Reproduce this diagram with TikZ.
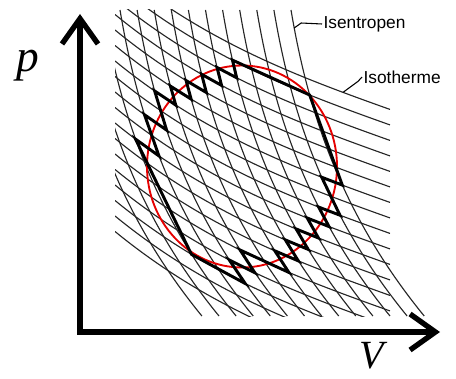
\documentclass[tikz,border=0pt]{standalone}
\usepackage{fontspec}
\setmainfont{Liberation Serif}
\newfontfamily\labelfont{Liberation Sans}
\usetikzlibrary{arrows.meta}

% one fixed-point step towards the crossing of an isentrope and an isotherm
\newcommand{\cpstep}{%
    \pgfmathsetmacro\cpx{\cpd+sdrop((\cpy-10)/100)}%
    \pgfmathsetmacro\cpy{\cpc+tdrop((\cpx-115)/100)}}
% crossing of isentrope #1 and isotherm #2, named (c#1-#2)
\newcommand{\cyclept}[2]{%
    \pgfmathsetmacro\cpc{-32+15.5*#2}%
    \pgfmathsetmacro\cpd{291-17.1*#1}%
    \let\cpy\cpc
    \cpstep\cpstep\cpstep\cpstep\cpstep\cpstep
    \coordinate (c#1-#2) at (\cpx,\cpy);}

\begin{document}
\begin{tikzpicture}[x=0.75pt, y=-0.75pt,
    declare function={tdrop(\s)=81.77*\s-16.34*\s*\s+1.93*\s*\s*\s;
                      sdrop(\t)=16.86*\t+4.95*\t*\t+1.23*\t*\t*\t;},
    gridline/.style={line width=0.85pt, black!85},
    cycleline/.style={line width=2.2pt, line join=miter},
    axis/.style={line width=4pt,
        {Straight Barb[length=19pt,width=27pt]}-{Straight Barb[length=19pt,width=27pt]}}]
    \useasboundingbox (0,0) rectangle (456,378);

    % Isothermen
    \begin{scope}
        \clip (115,10) rectangle (390,316);
        \foreach \k in {0,...,17} {
            \draw[gridline] plot[domain=115:390, samples=40] (\x, {-32+15.5*\k+tdrop((\x-115)/100)});
        }
    \end{scope}

    % Isentropen
    \begin{scope}
        \clip (115,10) rectangle (456,316);
        \foreach \i in {0,...,13} {
            \draw[gridline] plot[domain=10:316, samples=40] ({291-17.1*\i+sdrop((\x-10)/100)}, \x);
        }
    \end{scope}

    % Kreisprozess
    \draw[line width=1.4pt, red!90!black] (242,166.5) ellipse [x radius=95, y radius=101];

    \foreach \i/\k in {0/1,4/1,4/2,5/2,5/3,6/3,6/4,7/4,7/5,8/5,8/6,9/6,9/8,10/8,10/10,11/10,
                       11/15,9/15,9/14,8/14,8/13,6/13,6/12,5/12,5/11,4/11,4/10,3/10,3/9,2/9,
                       2/8,1/8,1/6,0/6} {
        \cyclept{\i}{\k}
    }
    \draw[cycleline] (c0-1) -- (c4-1) -- (c4-2) -- (c5-2) -- (c5-3) -- (c6-3) -- (c6-4)
        -- (c7-4) -- (c7-5) -- (c8-5) -- (c8-6) -- (c9-6) -- (c9-8) -- (c10-8) -- (c10-10)
        -- (c11-10) -- (c11-15) -- (c9-15) -- (c9-14) -- (c8-14) -- (c8-13) -- (c6-13)
        -- (c6-12) -- (c5-12) -- (c5-11) -- (c4-11) -- (c4-10) -- (c3-10) -- (c3-9)
        -- (c2-9) -- (c2-8) -- (c1-8) -- (c1-6) -- (c0-6) -- cycle;

    % Beschriftung
    \coordinate (sleader) at ({291+sdrop(0.18)}, 28);
    \coordinate (tleader) at (343, {-32+tdrop(2.28)});
    \node[anchor=west, inner sep=1pt, font=\labelfont\fontsize{13}{13}\selectfont] (isentropen) at (322,24) {Isentropen};
    \node[anchor=west, inner sep=1pt, font=\labelfont\fontsize{13}{13}\selectfont] (isotherme) at (362,77) {Isotherme};
    \draw[line width=0.8pt] (sleader) -- ++(7,-5) -- (isentropen.west);
    \draw[line width=0.8pt] (tleader) -- ++(15,-11) -- (isotherme.west);

    % Achsen
    \coordinate (origin) at (80,332);
    \coordinate (ptip) at (80,14);
    \coordinate (vtip) at (440,332);
    \draw[axis] (ptip) -- (origin) -- (vtip);
    \node (plabel) at (28,66) {\fontsize{34}{34}\selectfont\itshape p};
    \node (vlabel) at (372,356) {\fontsize{30}{30}\selectfont\itshape V};
\end{tikzpicture}
\end{document}
